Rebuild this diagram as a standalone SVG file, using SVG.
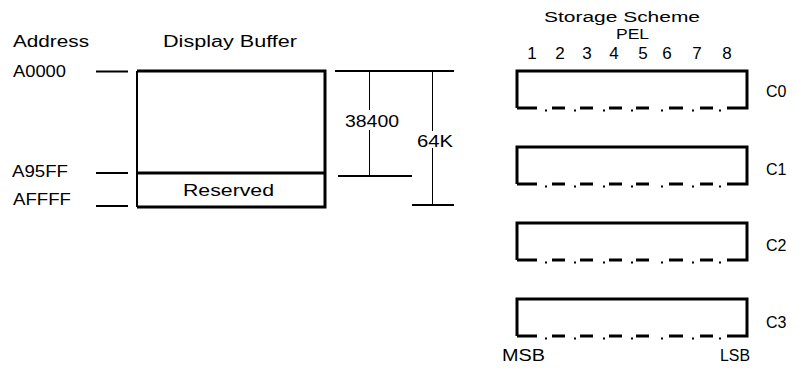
<svg xmlns="http://www.w3.org/2000/svg" width="801" height="373" viewBox="0 0 801 373">
<style>
  text { font-family: "Liberation Sans", Arial, sans-serif; fill: #000; }
  .t17 { font-size: 17px; }
  .t16 { font-size: 16px; }
  .t15 { font-size: 15px; }
  .t14 { font-size: 14px; }
  .thick { stroke: #000; stroke-width: 3; fill: none; }
  .med { stroke: #000; stroke-width: 2; fill: none; }
  .thin { stroke: #000; stroke-width: 1; fill: none; }
</style>
<defs>
  <g id="bitbox">
    <path class="thick" d="M517,37 L517,0 L747,0 L747,37 L727,37 M537,37 L517,37"/>
    <path class="thick" d="M552,37 H565 M580,37 H593 M609,37 H622 M636,37 H649 M669,37 H683 M700,37 H713"/>
    <g fill="#000">
      <rect x="545" y="38.5" width="2" height="2"/>
      <rect x="574" y="38.5" width="2" height="2"/>
      <rect x="603" y="38.5" width="2" height="2"/>
      <rect x="631" y="38.5" width="2" height="2"/>
      <rect x="661" y="38.5" width="2" height="2"/>
      <rect x="692" y="38.5" width="2" height="2"/>
      <rect x="719" y="38.5" width="2" height="2"/>
    </g>
  </g>
</defs>

<g id="headers">
  <text class="t16" x="13" y="47" textLength="76" lengthAdjust="spacingAndGlyphs">Address</text>
  <text class="t16" x="163" y="47" textLength="134" lengthAdjust="spacingAndGlyphs">Display Buffer</text>
</g>

<g id="addresses">
  <text class="t16" x="13" y="77" textLength="53" lengthAdjust="spacingAndGlyphs">A0000</text>
  <text class="t16" x="12" y="177" textLength="56" lengthAdjust="spacingAndGlyphs">A95FF</text>
  <text class="t16" x="13" y="205" textLength="58" lengthAdjust="spacingAndGlyphs">AFFFF</text>
</g>

<g id="display-buffer">
  <path class="med" d="M137,71 V207"/>
  <path class="thick" d="M137,71 H325 V207 H137"/>
  <path class="thick" d="M137,173 H325"/>
  <text class="t16" x="183" y="196" textLength="91" lengthAdjust="spacingAndGlyphs">Reserved</text>
</g>

<g id="connectors">
  <path class="med" d="M96,71.5 H128 M96,173 H128 M96,206 H128"/>
  <path class="med" d="M335,71 H454 M338,176 H412 M412,205 H454"/>
  <path class="thin" d="M369.5,71 V110 M369.5,130 V176 M432.5,71 V131 M432.5,148 V205"/>
</g>

<g id="sizes">
  <text class="t16" x="345" y="127" textLength="54" lengthAdjust="spacingAndGlyphs">38400</text>
  <text class="t16" x="417" y="147" textLength="36" lengthAdjust="spacingAndGlyphs">64K</text>
</g>

<g id="storage-header">
  <text class="t14" x="544" y="22" textLength="156" lengthAdjust="spacingAndGlyphs">Storage Scheme</text>
  <text class="t15" x="616" y="39" textLength="33" lengthAdjust="spacingAndGlyphs">PEL</text>
  <g class="t17" text-anchor="middle">
    <text x="532" y="59">1</text>
    <text x="560" y="59">2</text>
    <text x="587" y="59">3</text>
    <text x="614" y="59">4</text>
    <text x="643" y="59">5</text>
    <text x="667" y="59">6</text>
    <text x="697" y="59">7</text>
    <text x="727" y="59">8</text>
  </g>
</g>

<g id="plane-c0"><use href="#bitbox" y="71"/><text class="t16" x="766" y="97">C0</text></g>
<g id="plane-c1"><use href="#bitbox" y="147"/><text class="t16" x="766" y="175">C1</text></g>
<g id="plane-c2"><use href="#bitbox" y="223"/><text class="t16" x="766" y="251">C2</text></g>
<g id="plane-c3"><use href="#bitbox" y="299"/><text class="t16" x="766" y="328">C3</text></g>

<g id="bit-labels">
  <text class="t16" x="502" y="361" textLength="43" lengthAdjust="spacingAndGlyphs">MSB</text>
  <text class="t16" x="720" y="361" textLength="30" lengthAdjust="spacingAndGlyphs">LSB</text>
</g>
</svg>
